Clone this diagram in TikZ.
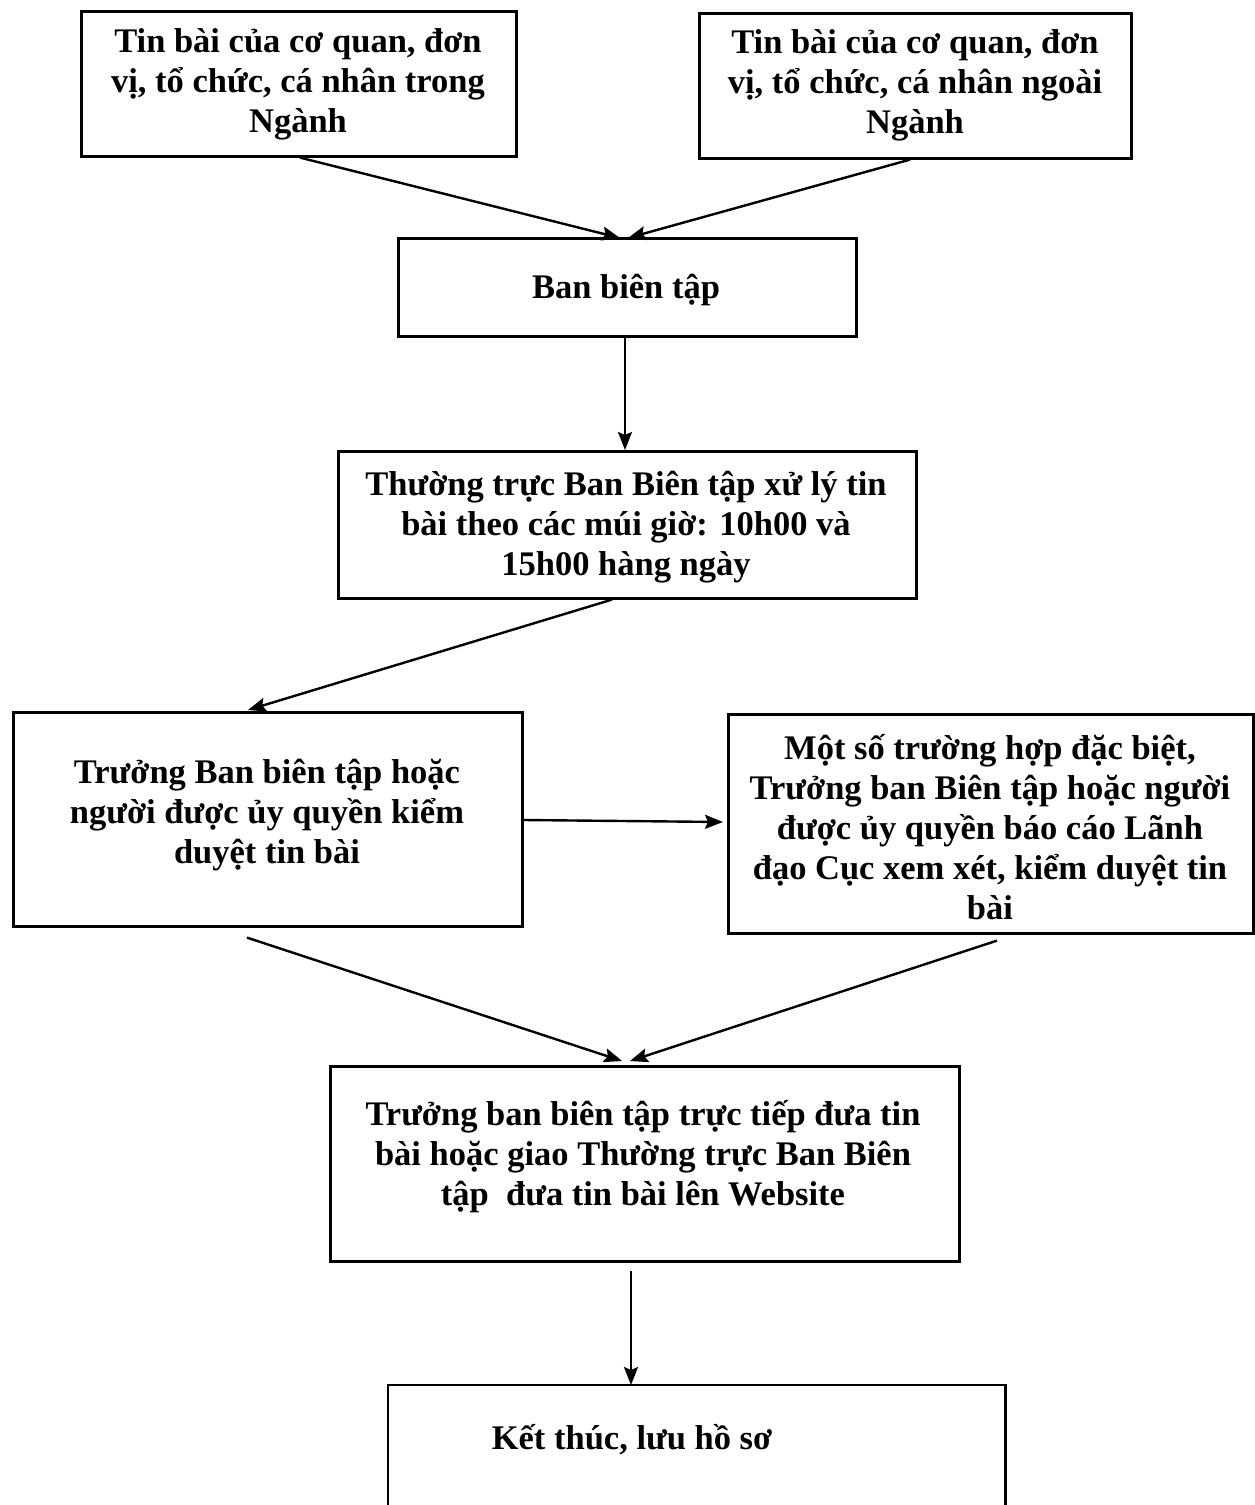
\documentclass[tikz,border=0pt]{standalone}
\usepackage{fontspec}
\setmainfont{Liberation Serif}
\usetikzlibrary{arrows.meta,calc}
\begin{document}
\begin{tikzpicture}[x=1pt,y=-1pt,
  box/.style={draw, line width=2.6pt, rectangle, anchor=north west, inner sep=0pt},
  lbl/.style={align=center, font=\fontsize{34.5}{40}\selectfont\bfseries},
  arr/.style={line width=2.4pt, -{Stealth[length=18pt,width=14pt,inset=3pt]}}]
\useasboundingbox (0,0) rectangle (1254,1505);
\fill[white] (0,0) rectangle (1254,1505);
% boxes
\node[box, minimum width=435, minimum height=145] (b1) at (80,10) {};
\node[lbl] (t1) at (298,84) {Tin bài của cơ quan, đơn\\vị, tổ chức, cá nhân trong\\Ngành};
\node[box, minimum width=432, minimum height=145] (b2) at (698,12) {};
\node[lbl] (t2) at (915,85) {Tin bài của cơ quan, đơn\\vị, tổ chức, cá nhân ngoài\\Ngành};
\node[box, minimum width=458, minimum height=98] (b3) at (397,237) {};
\node[lbl] (t3) at (626,290) {Ban biên tập};
\node[box, minimum width=578, minimum height=147] (b4) at (337,450) {};
\node[lbl] (t4) at (626,527) {Thường trực Ban Biên tập xử lý tin\\bài theo các múi giờ: 10h00 và\\15h00 hàng ngày};
\node[box, minimum width=509, minimum height=214] (b5) at (12,711) {};
\node[lbl] (t5) at (267,815) {Trưởng Ban biên tập hoặc\\người được ủy quyền kiểm\\duyệt tin bài};
\node[box, minimum width=525, minimum height=219] (b6) at (727,713) {};
\node[lbl] (t6) at (990,827) {Một số trường hợp đặc biệt,\\Trưởng ban Biên tập hoặc người\\được ủy quyền báo cáo Lãnh\\đạo Cục xem xét, kiểm duyệt tin\\bài};
\node[box, minimum width=629, minimum height=195] (b7) at (329,1065) {};
\node[lbl] (t7) at (643,1157) {Trưởng ban biên tập trực tiếp đưa tin\\bài hoặc giao Thường trực Ban Biên\\tập\ \ đưa tin bài lên Website};
\node[anchor=north west, inner sep=0pt, minimum width=617, minimum height=125] (b8) at (388,1385) {};
\draw[line width=2.6pt] (b8.south west) -- (b8.north west) -- (b8.north east) -- (b8.south east);
\node[lbl] (t8) at (632,1440) {Kết thúc, lưu hồ sơ};
% arrows
\draw[arr] ($(b1.south west)+(220,0)$) -- ($(b3.north west)+(223,1)$);
\draw[arr] ($(b2.south west)+(212,0)$) -- ($(b3.north west)+(231,1)$);
\draw[arr] ($(b3.south west)+(228,0)$) -- ($(b4.north west)+(288,0)$);
\draw[arr] ($(b4.south west)+(275,0)$) -- ($(b5.north west)+(236,-1)$);
\draw[arr] ($(b5.north east)+(0,109)$) -- ($(b6.north west)+(-4,109)$);
\draw[arr] ($(b5.south west)+(235,10)$) -- ($(b7.north west)+(293,-4)$);
\draw[arr] ($(b6.south west)+(270,6)$) -- ($(b7.north west)+(301,-4)$);
\draw[arr] ($(b7.south west)+(302,8)$) -- ($(b8.north west)+(243,0)$);
\end{tikzpicture}
\end{document}
